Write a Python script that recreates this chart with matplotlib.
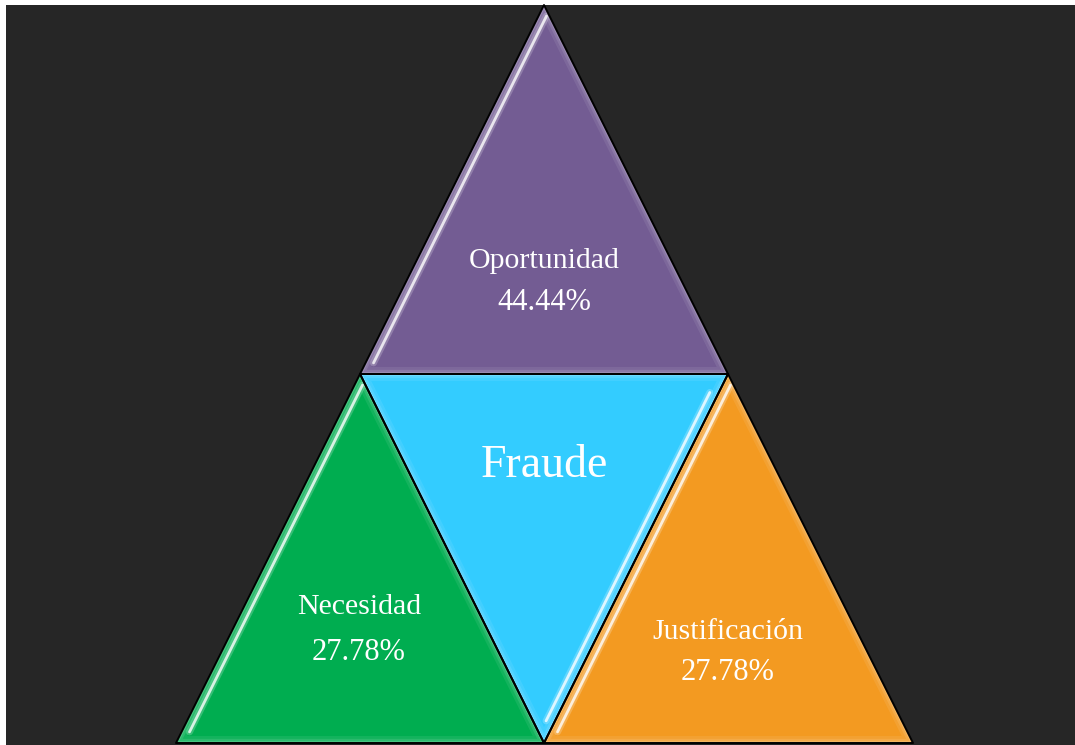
import matplotlib
matplotlib.use("Agg")
import matplotlib.pyplot as plt
from matplotlib.patches import Polygon, Rectangle
import numpy as np

# Data
categories = ["Oportunidad", "Necesidad", "Justificación"]
values = [44.44, 27.78, 27.78]
center_label = "Fraude"
colors = ["#735C93", "#00AD50", "#F39A21"]
center_color = "#33CCFF"

W, H = 1075, 745
fig = plt.figure(figsize=(W / 100, H / 100), dpi=100, facecolor="white")
ax = fig.add_axes([0, 0, 1, 1])
ax.set_xlim(0, W)
ax.set_ylim(H, 0)
ax.axis("off")

ax.add_patch(Rectangle((6, 5), W - 6, H - 5, facecolor="#262626", edgecolor="none", zorder=0))

apex = np.array([544, 5])
ml = np.array([360, 374])
mr = np.array([728, 374])
bl = np.array([176, 743])
bm = np.array([544, 743])
br = np.array([913, 743])

tris = {
    "top": [apex, ml, mr],
    "left": [ml, bl, bm],
    "right": [mr, bm, br],
    "center": [ml, mr, bm],
}
fills = {"top": colors[0], "left": colors[1], "right": colors[2], "center": center_color}

for key in ["top", "left", "right", "center"]:
    pts = tris[key]
    poly = Polygon(pts, closed=True, facecolor=fills[key], edgecolor="none", zorder=1)
    ax.add_patch(poly)
    for w, a in [(10, 0.08), (6, 0.10), (3, 0.14)]:
        fr = Polygon(pts, closed=True, facecolor="none", edgecolor="white", lw=w, alpha=a, zorder=2)
        ax.add_patch(fr)
        fr.set_clip_path(poly)
    ax.add_patch(Polygon(pts, closed=True, facecolor="none", edgecolor="black", lw=1.4, zorder=4, joinstyle="round"))

def gloss(p0, p1, inset_dir, inset=6, t0=0.05, t1=0.95):
    p0 = np.array(p0, float); p1 = np.array(p1, float)
    n = np.array(inset_dir, float); n = n / np.linalg.norm(n)
    a = p0 + (p1 - p0) * t0 + n * inset
    b = p0 + (p1 - p0) * t1 + n * inset
    ax.plot([a[0], b[0]], [a[1], b[1]], color="white", lw=2.0, alpha=0.8, zorder=3, solid_capstyle="round")
    ax.plot([a[0], b[0]], [a[1], b[1]], color="white", lw=5, alpha=0.22, zorder=3, solid_capstyle="round")

gloss(ml, apex, (1, 0), inset=8, t0=0.03, t1=0.97)
gloss(bl, ml, (1, 0), inset=8, t0=0.03, t1=0.97)
gloss(bm, mr, (1, 0), inset=8, t0=0.03, t1=0.97)
gloss(bm, mr, (-1, 0), inset=9, t0=0.06, t1=0.95)

font = ["Liberation Serif", "DejaVu Serif"]
txt = dict(color="white", ha="center", va="center", family=font, zorder=5)
ax.text(544, 261, categories[0], fontsize=21.5, **txt)
ax.text(544, 303, f"{values[0]:.2f}%", fontsize=22, **txt)
ax.text(544, 466, center_label, fontsize=33, **txt)
ax.text(359, 607, categories[1], fontsize=21.5, **txt)
ax.text(359, 653, f"{values[1]:.2f}%", fontsize=22, **txt)
ax.text(728, 632, categories[2], fontsize=21.5, **txt)
ax.text(728, 673, f"{values[2]:.2f}%", fontsize=22, **txt)

fig.savefig("out.png", dpi=100, facecolor="white")
